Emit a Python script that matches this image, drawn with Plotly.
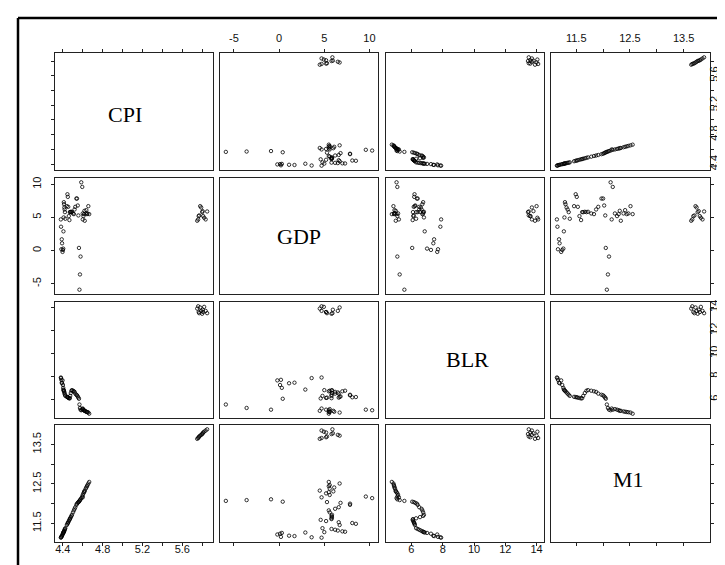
import plotly.graph_objects as go

# ---------------- data ----------------
CPI = [4.380, 4.382, 4.385, 4.389, 4.392, 4.397, 4.401, 4.404, 4.406, 4.408,
       4.410, 4.412, 4.415, 4.418, 4.421, 4.425, 4.440, 4.446, 4.450, 4.454,
       4.460, 4.466, 4.470, 4.474, 4.480, 4.486, 4.492, 4.502, 4.511, 4.518,
       4.525, 4.536, 4.542, 4.550, 4.556, 4.562, 4.567, 4.572, 4.578, 4.585,
       4.595, 4.600, 4.600, 4.607, 4.613, 4.617, 4.620, 4.630, 4.636, 4.642,
       4.648, 4.656, 4.665,
       5.750, 5.760, 5.765, 5.770, 5.780, 5.790, 5.800, 5.805, 5.810, 5.820,
       5.835, 5.850]

GDP = [4.7, 3.6, 0.2, 1.7, 1.1, -0.2, 0.1, 0.3, 2.9, 5.0,
       7.3, 7.0, 6.5, 6.2, 5.8, 4.8, 6.7, 8.5, 8.1, 6.6,
       5.2, 4.6, 5.8, 5.8, 5.85, 5.8, 5.85, 5.6, 5.5, 6.2,
       6.6, 7.85, 7.85, 6.8, 5.3, 0.4, -5.9, -3.6, -0.9, 10.3,
       9.6, 4.7, 5.6, 5.2, 5.5, 6.0, 4.5, 5.6, 6.1, 5.5,
       5.6, 6.7, 5.5,
       4.5, 4.7, 5.2, 5.3, 6.7, 6.5, 5.8, 5.95, 5.2, 4.95,
       4.7, 5.9]

BLR = [7.90, 7.85, 7.70, 7.45, 7.40, 7.65, 7.25, 7.00, 6.85, 6.80,
       6.75, 6.70, 6.60, 6.50, 6.40, 6.30, 6.22, 6.20, 6.18, 6.15,
       6.12, 6.08, 6.10, 6.30, 6.55, 6.75, 6.80, 6.75, 6.70, 6.65,
       6.50, 6.40, 6.35, 6.25, 6.15, 6.05, 5.55, 5.25, 5.10, 5.05,
       5.10, 5.20, 5.15, 5.10, 5.05, 5.00, 5.00, 4.95, 4.92, 4.90,
       4.88, 4.85, 4.75,
       13.90, 14.10, 13.60, 13.50, 14.00, 13.70, 13.45, 13.80, 13.60, 14.05,
       13.70, 13.50]

M1 = [11.14, 11.15, 11.16, 11.18, 11.19, 11.22, 11.24, 11.26, 11.27, 11.28,
      11.29, 11.30, 11.32, 11.34, 11.36, 11.38, 11.46, 11.49, 11.51, 11.53,
      11.56, 11.59, 11.61, 11.63, 11.66, 11.69, 11.72, 11.78, 11.83, 11.87,
      11.91, 11.97, 12.00, 12.02, 12.04, 12.05, 12.07, 12.09, 12.11, 12.14,
      12.18, 12.16, 12.22, 12.26, 12.29, 12.31, 12.33, 12.38, 12.41, 12.44,
      12.47, 12.51, 12.55,
      13.64, 13.66, 13.68, 13.70, 13.72, 13.74, 13.76, 13.78, 13.80, 13.82,
      13.85, 13.88]

VAR_NAMES = ["CPI", "GDP", "BLR", "M1"]

CPI_TICKS = [4.4, 4.6, 4.8, 5.0, 5.2, 5.4, 5.6, 5.8]
CPI_TICK_TEXT = ["4.4", "", "4.8", "", "5.2", "", "5.6", ""]
GDP_TICKS = [-5, 0, 5, 10]
GDP_TICK_TEXT = ["-5", "0", "5", "10"]
BLR_TICKS = [6, 8, 10, 12, 14]
BLR_TICK_TEXT = ["6", "8", "10", "12", "14"]
M1_TICKS = [11.5, 12.0, 12.5, 13.0, 13.5]
M1_TICK_TEXT = ["11.5", "", "12.5", "", "13.5"]

# ---------------- layout geometry ----------------
W, H = 725, 565
COLS_PX = [(47, 205), (212, 370), (378, 536), (543, 702)]
ROWS_PX = [(45, 162), (170, 286), (294, 410), (417, 534)]
LABEL_POS = [(117, 107), (291, 228), (459, 351), (620, 471)]

data = [CPI, GDP, BLR, M1]
ticks = [(CPI_TICKS, CPI_TICK_TEXT), (GDP_TICKS, GDP_TICK_TEXT),
         (BLR_TICKS, BLR_TICK_TEXT), (M1_TICKS, M1_TICK_TEXT)]


def pad_range(v):
    lo, hi = min(v), max(v)
    d = (hi - lo) * 0.04
    return [lo - d, hi + d]


ranges = [pad_range(v) for v in data]

fig = go.Figure()
layout = {}
FONT = dict(family="Liberation Sans, Arial, sans-serif", size=11, color="#111")

for i in range(4):
    for j in range(4):
        k = i * 4 + j + 1
        xs = "" if k == 1 else str(k)
        if i != j:
            fig.add_trace(go.Scatter(
                x=data[j], y=data[i], mode="markers",
                xaxis="x" + xs, yaxis="y" + xs,
                marker=dict(symbol="circle-open", size=3.4, color="black",
                            line=dict(width=0.8, color="black")),
                hoverinfo="skip", showlegend=False))
        else:
            fig.add_trace(go.Scatter(x=[], y=[], xaxis="x" + xs, yaxis="y" + xs,
                                     showlegend=False))
        x0, x1 = COLS_PX[j]
        y0, y1 = ROWS_PX[i]
        xa = dict(domain=[x0 / W, x1 / W], range=ranges[j], anchor="y" + xs,
                  showline=True, mirror=True, linecolor="#222", linewidth=1,
                  showgrid=False, zeroline=False, ticks="", showticklabels=False,
                  automargin=False, fixedrange=True)
        ya = dict(domain=[1 - y1 / H, 1 - y0 / H], range=ranges[i], anchor="x" + xs,
                  showline=True, mirror=True, linecolor="#222", linewidth=1,
                  showgrid=False, zeroline=False, ticks="", showticklabels=False,
                  automargin=False, fixedrange=True)
        if i == 0 or i == 3:
            xa.update(side="top" if i == 0 else "bottom", ticks="outside",
                      ticklen=3, tickwidth=1, tickcolor="#222",
                      tickvals=ticks[j][0], ticktext=ticks[j][1],
                      showticklabels=(j in (1, 3)) if i == 0 else (j in (0, 2)),
                      ticklabelstandoff=3 if i == 0 else -6,
                      tickfont=FONT)
        if j == 0 or j == 3:
            ya.update(side="left" if j == 0 else "right", ticks="outside",
                      ticklen=3, tickwidth=1, tickcolor="#222",
                      tickvals=ticks[i][0], ticktext=ticks[i][1],
                      showticklabels=(i in (1, 3)) if j == 0 else (i in (0, 2)),
                      ticklabelstandoff=6 if j == 0 else -9,
                      tickangle=-90, tickfont=FONT)
        layout["xaxis" + xs] = xa
        layout["yaxis" + xs] = ya

annotations = []
for n, name in enumerate(VAR_NAMES):
    px, py = LABEL_POS[n]
    annotations.append(dict(text=name, x=px / W, y=1 - py / H, xref="paper", yref="paper",
                            showarrow=False, xanchor="center", yanchor="middle",
                            font=dict(family="Liberation Serif, Times New Roman, serif",
                                      size=22, color="black")))

shapes = [
    dict(type="line", xref="paper", yref="paper", x0=10 / W, x1=10 / W,
         y0=0, y1=1 - 10 / H, line=dict(color="black", width=2.5)),
    dict(type="line", xref="paper", yref="paper", x0=10 / W, x1=1,
         y0=1 - 10 / H, y1=1 - 10 / H, line=dict(color="black", width=2.5)),
]

fig.update_layout(**layout)
fig.update_layout(width=W, height=H, template="none",
                  margin=dict(l=0, r=0, t=0, b=0, pad=0),
                  paper_bgcolor="white", plot_bgcolor="white",
                  font=FONT, annotations=annotations, shapes=shapes,
                  showlegend=False)

fig.write_html("out.html")
